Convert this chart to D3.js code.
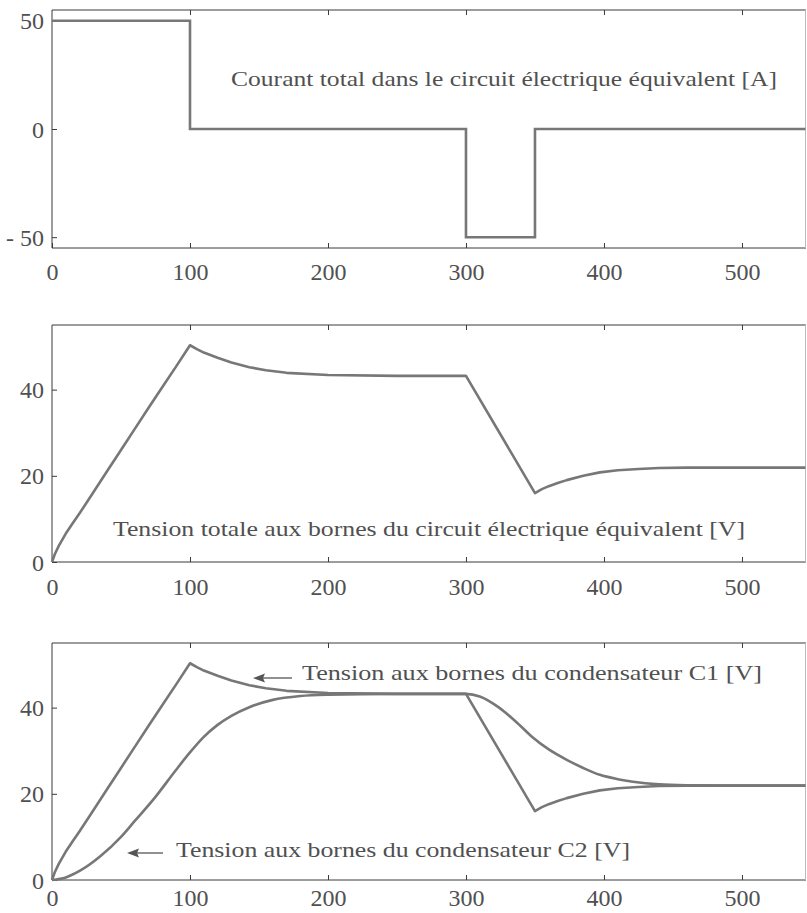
<!DOCTYPE html>
<html>
<head>
<meta charset="utf-8">
<script src="https://cdn.jsdelivr.net/npm/d3@7/dist/d3.min.js"></script>
<style>
  html, body { margin: 0; padding: 0; background: #fff; }
  svg { display: block; }
  text { font-family: "Liberation Serif", "Times New Roman", serif; fill: #505050; }
</style>
</head>
<body>
<svg id="chart" width="807" height="913"></svg>
<script>
// ---------- DATA ----------
const xTicks = [0, 100, 200, 300, 400, 500];
const xTickLabels = ["0", "100", "200", "300", "400", "500"];

// Panel 1: total current [A] (step function)
const tCurrent = [0, 100, 300, 350, 546];
const iCurrent = [50, 0, -50, 0, 0];
const yTicks1 = [-50, 0, 50];
const yTickLabels1 = ["- 50", "0", "50"];

// Panel 2: total voltage [V]
const tVolt = [0, 2, 5, 10, 15, 20, 30, 40, 50, 60, 70, 80, 90, 100, 105, 110, 120, 130, 143, 155, 170, 200, 250, 300, 350, 355, 360, 367, 373, 385, 397, 410, 425, 440, 460, 500, 546];
const vTotal = [0, 1.8, 3.8, 6.6, 9.0, 11.3, 16.2, 21.1, 26.0, 30.9, 35.8, 40.6, 45.4, 50.3, 49.4, 48.6, 47.4, 46.3, 45.2, 44.5, 43.9, 43.4, 43.2, 43.2, 16.0, 16.9, 17.6, 18.4, 19.0, 20.0, 20.8, 21.3, 21.6, 21.8, 21.9, 21.9, 21.9];
const yTicks2 = [0, 20, 40];
const yTickLabels2 = ["0", "20", "40"];

// Panel 3: capacitor voltages [V]
const vC1 = [0, 1.8, 3.8, 6.6, 9.0, 11.3, 16.2, 21.1, 26.0, 30.9, 35.8, 40.6, 45.4, 50.3, 49.4, 48.6, 47.4, 46.3, 45.2, 44.5, 43.9, 43.4, 43.2, 43.2, 16.0, 16.9, 17.6, 18.4, 19.0, 20.0, 20.8, 21.3, 21.6, 21.8, 21.9, 21.9, 21.9];
const tC2 = [0, 10, 20, 35, 50, 60, 75, 90, 100, 110, 120, 130, 143, 160, 180, 200, 250, 300, 310, 324, 336, 348, 360, 373, 385, 397, 410, 421, 440, 460, 500, 546];
const vC2 = [0, 0.6, 2.1, 5.5, 10.0, 13.7, 19.3, 25.6, 29.6, 33.2, 36.0, 38.1, 40.1, 41.8, 42.7, 43.0, 43.2, 43.2, 42.6, 40.0, 36.8, 33.2, 30.3, 27.9, 26.0, 24.4, 23.4, 22.8, 22.2, 22.0, 21.9, 21.9];
const yTicks3 = [0, 20, 40];
const yTickLabels3 = ["0", "20", "40"];

const titles = [
  "Courant total dans le circuit électrique équivalent [A]",
  "Tension totale aux bornes du circuit électrique équivalent [V]",
  "Tension aux bornes du condensateur C1 [V]",
  "Tension aux bornes du condensateur C2 [V]"
];

// ---------- LAYOUT ----------
const svg = d3.select("#chart");
const left = 52, right = 806;
const x = d3.scaleLinear().domain([0, 546.4]).range([left, right]);

const panels = [
  { top: 10, bottom: 248, domain: [-55, 55], yt: yTicks1, yl: yTickLabels1, labBase: 280 },
  { top: 325, bottom: 562, domain: [0, 55], yt: yTicks2, yl: yTickLabels2, labBase: 595 },
  { top: 643, bottom: 880, domain: [0, 55], yt: yTicks3, yl: yTickLabels3, labBase: 906 }
];

const lineColor = "#777";
const axisColor = "#3a3a3a";

panels.forEach((p, i) => {
  p.y = d3.scaleLinear().domain(p.domain).range([p.bottom, p.top]);
  const g = svg.append("g");

  // frame
  g.append("line").attr("x1", left).attr("x2", right).attr("y1", p.top).attr("y2", p.top)
    .attr("stroke", axisColor).attr("stroke-width", 1);
  g.append("line").attr("x1", left).attr("x2", right).attr("y1", p.bottom).attr("y2", p.bottom)
    .attr("stroke", axisColor).attr("stroke-width", 1);
  g.append("line").attr("x1", left).attr("x2", left).attr("y1", p.top).attr("y2", p.bottom)
    .attr("stroke", axisColor).attr("stroke-width", 1);
  g.append("line").attr("x1", right - 0.5).attr("x2", right - 0.5).attr("y1", p.top).attr("y2", p.bottom)
    .attr("stroke", "#bbb").attr("stroke-width", 1);

  // bottom axis (inward ticks)
  const xb = g.append("g").attr("transform", `translate(0,${p.bottom})`)
    .call(d3.axisBottom(x).tickValues(xTicks).tickFormat((d, k) => xTickLabels[k]).tickSizeInner(-5).tickSizeOuter(0));
  xb.select(".domain").remove();
  xb.selectAll(".tick line").attr("stroke", axisColor);
  xb.selectAll(".tick text").attr("y", p.labBase - p.bottom).attr("dy", 0)
    .style("font-size", "24px").style("font-family", "Liberation Serif").attr("fill", "#505050");

  // top axis ticks (inward)
  const xt = g.append("g").attr("transform", `translate(0,${p.top})`)
    .call(d3.axisTop(x).tickValues(xTicks.slice(1)).tickFormat("").tickSizeInner(-5).tickSizeOuter(0));
  xt.select(".domain").remove();
  xt.selectAll(".tick line").attr("stroke", axisColor);

  // left axis
  const yl = g.append("g").attr("transform", `translate(${left},0)`)
    .call(d3.axisLeft(p.y).tickValues(p.yt).tickFormat((d, k) => p.yl[k]).tickSizeInner(-5).tickSizeOuter(0).tickPadding(8));
  yl.select(".domain").remove();
  yl.selectAll(".tick line").attr("stroke", axisColor);
  yl.selectAll(".tick text").attr("dy", "0.34em")
    .style("font-size", "24px").style("font-family", "Liberation Serif").attr("fill", "#505050");
});

// ---------- SERIES ----------
const p1 = panels[0], p2 = panels[1], p3 = panels[2];

const lineCurrent = d3.line().x((d, k) => x(tCurrent[k])).y(d => p1.y(d)).curve(d3.curveStepAfter);
svg.append("path").datum(iCurrent).attr("d", lineCurrent)
  .attr("fill", "none").attr("stroke", lineColor).attr("stroke-width", 2.6);

const lineTot = d3.line().x((d, k) => x(tVolt[k])).y(d => p2.y(d)).curve(d3.curveLinear);
svg.append("path").datum(vTotal).attr("d", lineTot)
  .attr("fill", "none").attr("stroke", lineColor).attr("stroke-width", 2.6).attr("stroke-linejoin", "round");

const lineC1 = d3.line().x((d, k) => x(tVolt[k])).y(d => p3.y(d)).curve(d3.curveLinear);
svg.append("path").datum(vC1).attr("d", lineC1)
  .attr("fill", "none").attr("stroke", lineColor).attr("stroke-width", 2.6).attr("stroke-linejoin", "round");

const lineC2 = d3.line().x((d, k) => x(tC2[k])).y(d => p3.y(d)).curve(d3.curveMonotoneX);
svg.append("path").datum(vC2).attr("d", lineC2)
  .attr("fill", "none").attr("stroke", lineColor).attr("stroke-width", 2.6);

// ---------- TEXT LABELS ----------
function label(txt, x0, x1, base) {
  svg.append("text").attr("x", x0).attr("y", base)
    .attr("textLength", x1 - x0).attr("lengthAdjust", "spacingAndGlyphs")
    .style("font-size", "22px").text(txt);
}
label(titles[0], 231, 777, 86);
label(titles[1], 113, 745, 536);
label(titles[2], 302, 762, 680);
label(titles[3], 176, 630, 857);

// arrows
function arrow(xHead, xTail, yy) {
  svg.append("line").attr("x1", xHead + 9).attr("x2", xTail).attr("y1", yy).attr("y2", yy)
    .attr("stroke", "#555").attr("stroke-width", 1.3);
  svg.append("path")
    .attr("d", `M${xHead},${yy} L${xHead + 12},${yy - 4.5} L${xHead + 10},${yy} L${xHead + 12},${yy + 4.5} Z`)
    .attr("fill", "#555");
}
arrow(253, 292, 678);
arrow(127, 163, 853);
</script>
</body>
</html>
